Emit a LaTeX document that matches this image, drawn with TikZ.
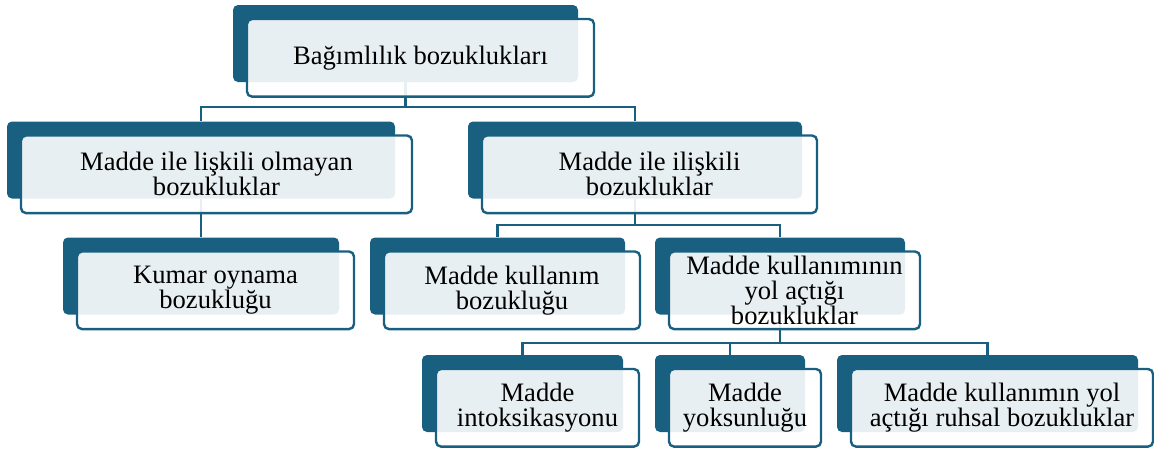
\documentclass[tikz,border=0pt]{standalone}
\usepackage{fontspec}
\setmainfont{Liberation Serif}
\definecolor{accent}{HTML}{195F80}
\tikzset{
  shadowbox/.style={fill=accent, rounded corners=5pt, inner sep=0pt, minimum height=77pt},
  itembox/.style={draw=accent, line width=2.4pt, fill=white, fill opacity=0.9, text opacity=1, rounded corners=5pt, align=center, inner sep=1pt, minimum height=77.6pt, anchor=north west, font=\fontsize{26.6}{25}\selectfont},
  link/.style={draw=accent, line width=2.4pt}
}
\begin{document}
\begin{tikzpicture}[x=1pt, y=-1pt]
  \useasboundingbox (0,0) rectangle (1154,450);
  % dark boxes behind
  \node[shadowbox, minimum width=345pt] (rootbg) at (405.5,43.5) {};
  \node[shadowbox, minimum width=388pt] (nonsubbg) at (201,160) {};
  \node[shadowbox, minimum width=334pt] (subbg) at (635,160) {};
  \node[shadowbox, minimum width=276pt] (gamblebg) at (201,276) {};
  \node[shadowbox, minimum width=255pt] (sudbg) at (497.5,276) {};
  \node[shadowbox, minimum width=250pt] (inducedbg) at (780,276) {};
  \node[shadowbox, minimum width=201pt] (intoxbg) at (522.5,393.5) {};
  \node[shadowbox, minimum width=150pt] (withdrawbg) at (730,393.5) {};
  \node[shadowbox, minimum width=301pt] (mentalbg) at (987.5,393.5) {};
  % connectors
  \draw[link] (rootbg.south) -- ++(0,25) -| (nonsubbg.north);
  \draw[link] (rootbg.south) -- ++(0,25) -| (subbg.north);
  \draw[link] (nonsubbg.south) -- (gamblebg.north);
  \draw[link] (subbg.south) -- ++(0,26) -| (sudbg.north);
  \draw[link] (subbg.south) -- ++(0,26) -| (inducedbg.north);
  \draw[link] (inducedbg.south) -- ++(0,28) -| (intoxbg.north);
  \draw[link] (inducedbg.south) -- ++(0,28) -| (withdrawbg.north);
  \draw[link] (inducedbg.south) -- ++(0,28) -| (mentalbg.north);
  % light boxes in front
  \node[itembox, minimum width=347pt] (root) at ([shift={(13,13)}]rootbg.north west) {Bağımlılık bozuklukları};
  \node[itembox, minimum width=391pt] (nonsub) at ([shift={(13,13)}]nonsubbg.north west) {Madde ile lişkili olmayan\\bozukluklar};
  \node[itembox, minimum width=335pt] (sub) at ([shift={(13,13)}]subbg.north west) {Madde ile ilişkili\\bozukluklar};
  \node[itembox, minimum width=277pt] (gamble) at ([shift={(13,13)}]gamblebg.north west) {Kumar oynama\\bozukluğu};
  \node[itembox, minimum width=256pt] (sud) at ([shift={(13,13)}]sudbg.north west) {Madde kullanım\\bozukluğu};
  \node[itembox, minimum width=251pt] (induced) at ([shift={(13,13)}]inducedbg.north west) {Madde kullanımının\\yol açtığı\\bozukluklar};
  \node[itembox, minimum width=203pt] (intox) at ([shift={(13,13)}]intoxbg.north west) {Madde\\intoksikasyonu};
  \node[itembox, minimum width=152pt] (withdraw) at ([shift={(13,13)}]withdrawbg.north west) {Madde\\yoksunluğu};
  \node[itembox, minimum width=302pt] (mental) at ([shift={(13,13)}]mentalbg.north west) {Madde kullanımın yol\\açtığı ruhsal bozukluklar};
\end{tikzpicture}
\end{document}
